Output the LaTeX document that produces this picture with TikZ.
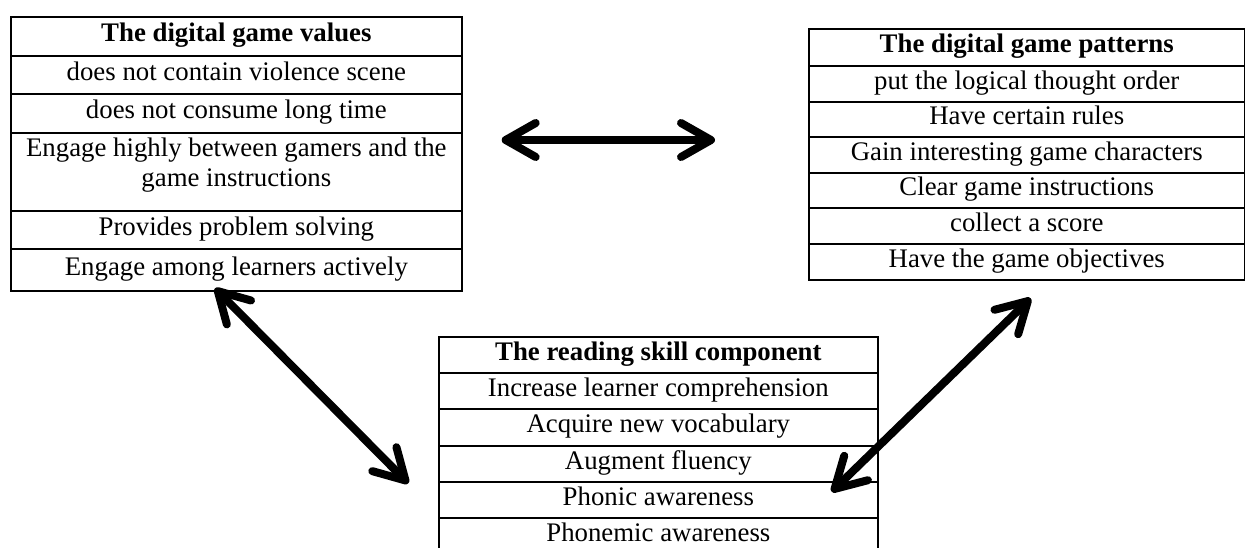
\documentclass[tikz,border=0pt]{standalone}
\usepackage{fontspec}
\setmainfont{Liberation Serif}
\usetikzlibrary{arrows.meta}
\tikzset{
  cell/.style={draw, line width=1.8pt, rectangle, outer sep=0pt, inner sep=0pt, anchor=north,
    font=\fontsize{26.8}{30.5}\selectfont, text height=18.8pt, text depth=8pt, align=center},
  lcell/.style={cell, minimum width=451.3pt},
  rcell/.style={cell, minimum width=435.5pt},
  bcell/.style={cell, minimum width=438.7pt},
  bigarrow/.style={line width=8pt, line cap=round,
    {Straight Barb[length=30pt,width=34pt,round]}-{Straight Barb[length=30pt,width=34pt,round]}}
}
\begin{document}
\begin{tikzpicture}[x=1pt,y=-1pt]
\useasboundingbox (0,0) rectangle (1246,547);
% left table
\node[lcell, minimum height=38.7pt] (v0) at (236.35,17) {\textbf{The digital game values}};
\node[lcell, minimum height=38.3pt] (v1) at (v0.south) {does not contain violence scene};
\node[lcell, minimum height=38.7pt] (v2) at (v1.south) {does not consume long time};
\node[lcell, minimum height=78.3pt, text height=49.5pt, text depth=19.8pt] (v3) at (v2.south) {Engage highly between gamers and the\\game instructions};
\node[lcell, minimum height=38.3pt] (v4) at (v3.south) {Provides problem solving};
\node[lcell, minimum height=41.7pt] (v5) at (v4.south) {Engage among learners actively};
% right table
\node[rcell, minimum height=36.7pt] (p0) at (1026.75,29) {\textbf{The digital game patterns}};
\node[rcell, minimum height=36pt] (p1) at (p0.south) {put the logical thought order};
\node[rcell, minimum height=35.6pt] (p2) at (p1.south) {Have certain rules};
\node[rcell, minimum height=35.4pt] (p3) at (p2.south) {Gain interesting game characters};
\node[rcell, minimum height=35.6pt] (p4) at (p3.south) {Clear game instructions};
\node[rcell, minimum height=35.7pt] (p5) at (p4.south) {collect a score};
\node[rcell, minimum height=36pt] (p6) at (p5.south) {Have the game objectives};
% bottom table
\node[bcell, minimum height=35.4pt] (r0) at (658.35,337.3) {\textbf{The reading skill component}};
\node[bcell, minimum height=36.6pt] (r1) at (r0.south) {Increase learner comprehension};
\node[bcell, minimum height=36.4pt] (r2) at (r1.south) {Acquire new vocabulary};
\node[bcell, minimum height=36.3pt] (r3) at (r2.south) {Augment fluency};
\node[bcell, minimum height=35.7pt] (r4) at (r3.south) {Phonic awareness};
\node[bcell, minimum height=46pt, text height=18.8pt, text depth=18pt] (r5) at (r4.south) {Phonemic awareness};
% arrow ends
\coordinate (h1) at (501.7,140);
\coordinate (h2) at (715,140);
\coordinate (l1) at (215,288.3);
\coordinate (l2) at (408.3,483.3);
\coordinate (q1) at (1030.7,298.3);
\coordinate (q2) at (831.7,491.7);
\draw[bigarrow] (h1) -- (h2);
\draw[bigarrow] (l1) -- (l2);
\draw[bigarrow] (q1) -- (q2);
\end{tikzpicture}
\end{document}
